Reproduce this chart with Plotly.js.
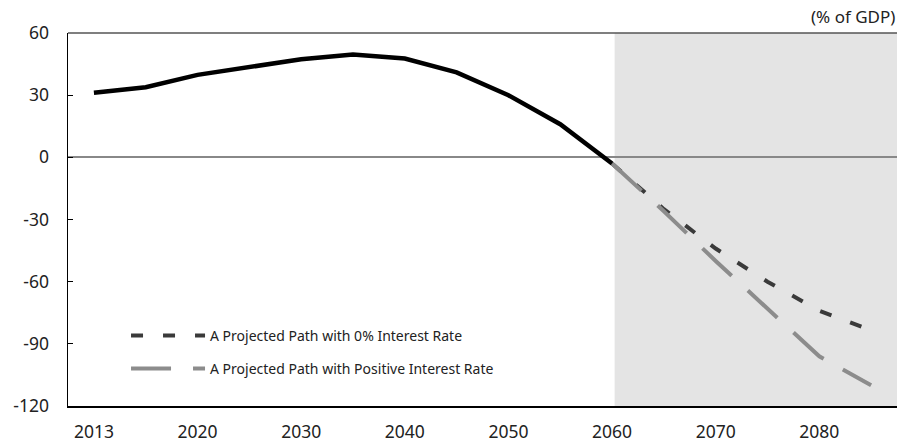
<!DOCTYPE html>
<html><head><meta charset="utf-8">
<script src="https://cdn.plot.ly/plotly-3.0.1.min.js"></script>
<style>body{margin:0;background:#fff}#c{width:899px;height:446px}</style>
</head><body><div id="c"></div>
<script>
const years = ["2013","2015","2020","2025","2030","2035","2040","2045","2050","2055","2060"];
const baseline = [31.2, 33.8, 39.8, 43.6, 47.3, 49.6, 47.7, 41, 30, 16, -3];
const projYears = ["2060","2065","2070","2075","2080","2085"];
const zeroRate = [-3, -25, -44, -60, -74, -83.5];
const positiveRate = [-3, -26, -50, -73, -96, -110];
const allCats = ["2013","2015","2020","2025","2030","2035","2040","2045","2050","2055","2060","2065","2070","2075","2080","2085"];
const tickLabels = ["2013","2020","2030","2040","2050","2060","2070","2080"];
const yTicks = [60, 30, 0, -30, -60, -90, -120];
const yTickText = ["60", "30", "0", "-30", "-60", "-90", "-120"];

const font = "'Noto Sans', 'Open Sans', sans-serif";
const traces = [
  {x: projYears, y: zeroRate, mode: 'lines', name: 'A Projected Path with 0% Interest Rate',
   legend: 'legend', line: {color: '#3a3a3a', width: 4, dash: '12px,20px'}},
  {x: projYears, y: positiveRate, mode: 'lines', name: 'A Projected Path with Positive Interest Rate',
   legend: 'legend2', line: {color: '#8c8c8c', width: 4, dash: '40px,22px'}},
  {x: years, y: baseline, mode: 'lines', showlegend: false,
   line: {color: '#000', width: 4.5}}
];
const legBase = {xanchor: 'left', yanchor: 'middle', bgcolor: 'rgba(0,0,0,0)',
  font: {size: 14, color: '#222', family: font}, itemwidth: 74};
const layout = {
  width: 899, height: 446,
  margin: {l: 68, r: 2, t: 33, b: 40},
  paper_bgcolor: '#fff', plot_bgcolor: '#fff',
  font: {family: font, color: '#222'},
  showlegend: true,
  legend: Object.assign({x: 0.07, y: (406 - 336) / 373}, legBase),
  legend2: Object.assign({x: 0.07, y: (406 - 369) / 373}, legBase),
  xaxis: {type: 'category', categoryorder: 'array', categoryarray: allCats,
    range: [-0.5, 15.5], tickvals: tickLabels, ticktext: tickLabels,
    showgrid: false, zeroline: false, showline: true, linecolor: '#000', linewidth: 1.5,
    ticks: '', tickfont: {size: 17.5, color: '#222'}, ticklabelstandoff: 9},
  yaxis: {range: [-120, 60], tickvals: yTicks, ticktext: yTickText, showgrid: false, zeroline: true,
    zerolinecolor: '#888', zerolinewidth: 2, showline: true, linecolor: '#000', linewidth: 1.5,
    ticks: 'inside', ticklen: 5, tickcolor: '#000', tickfont: {size: 17.5, color: '#222'},
    ticklabelstandoff: 14},
  shapes: [
    {type: 'rect', xref: 'x', yref: 'paper', x0: 10.05, x1: 15.5, y0: 0, y1: 1,
     fillcolor: '#e4e4e4', line: {width: 0}, layer: 'below'},
    {type: 'line', xref: 'paper', yref: 'paper', x0: 0, x1: 1, y0: 1, y1: 1,
     line: {color: '#555', width: 1.5}}
  ],
  annotations: [
    {text: '(% of GDP)', xref: 'paper', yref: 'paper', x: 1, y: 1, xanchor: 'right', yanchor: 'bottom',
     yshift: 3, showarrow: false, font: {size: 17, color: '#222', family: font}}
  ]
};
Plotly.newPlot('c', traces, layout, {displayModeBar: false, staticPlot: true});
</script></body></html>
